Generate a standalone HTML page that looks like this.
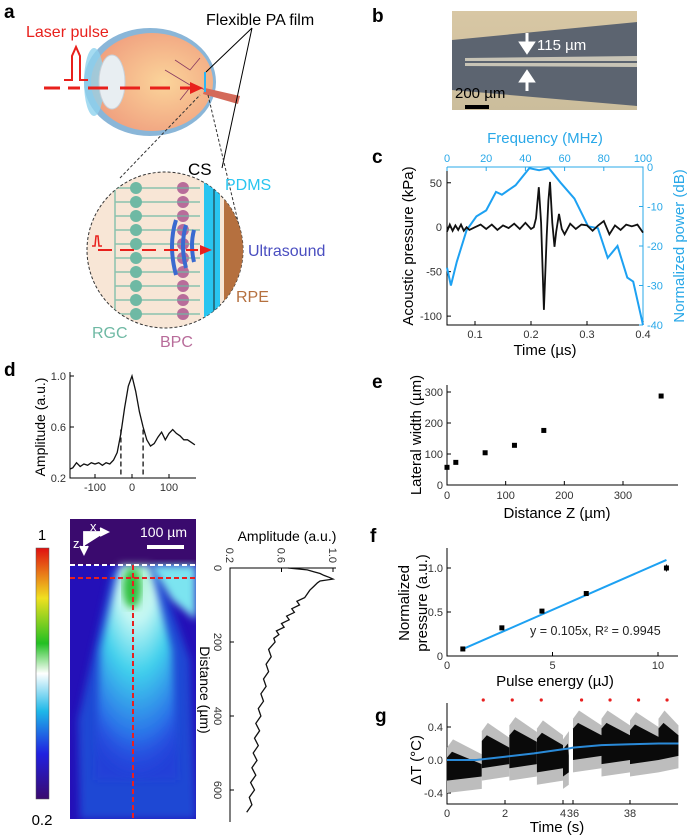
<!DOCTYPE html>
<html><head><meta charset="utf-8"><style>
body{margin:0;background:#fff}
svg{display:block;font-family:"Liberation Sans",sans-serif}
</style></head><body>
<svg id="fig" width="690" height="839" viewBox="0 0 690 839">
<defs>
<radialGradient id="eyeg" cx="0.6" cy="0.5" r="0.6"><stop offset="0" stop-color="#fbd49a"/><stop offset="1" stop-color="#f0a07f"/></radialGradient>
<linearGradient id="cbar" x1="0" y1="1" x2="0" y2="0"><stop offset="0" stop-color="#3a0a6e"/><stop offset="0.18" stop-color="#2020e0"/><stop offset="0.35" stop-color="#1fb8e8"/><stop offset="0.5" stop-color="#ffffff"/><stop offset="0.62" stop-color="#22c022"/><stop offset="0.8" stop-color="#f0e020"/><stop offset="1" stop-color="#e01010"/></linearGradient>
<radialGradient id="cone" cx="0.5" cy="0" r="1"><stop offset="0" stop-color="#a0f0c0"/><stop offset="0.25" stop-color="#c8f8f4"/><stop offset="0.5" stop-color="#40d0ec"/><stop offset="0.8" stop-color="#2a70e8"/><stop offset="1" stop-color="#2a30e0" stop-opacity="0.3"/></radialGradient>
<linearGradient id="photo" x1="0" y1="0" x2="0" y2="1"><stop offset="0" stop-color="#d8c7a4"/><stop offset="1" stop-color="#cbbd9c"/></linearGradient>
<filter id="blur"><feGaussianBlur stdDeviation="4"/></filter>
<clipPath id="hclip"><rect x="70" y="519" width="126" height="300"/></clipPath>
<clipPath id="zclip"><circle cx="165" cy="250" r="78"/></clipPath>
</defs>

<g font-weight="bold" font-size="19">
<text x="4" y="18">a</text><text x="372" y="22">b</text><text x="372" y="163">c</text>
<text x="4" y="376">d</text><text x="372" y="388">e</text><text x="370" y="542">f</text><text x="375" y="722">g</text>
</g>

<g>
<text x="26" y="37" fill="#e8201c" font-size="16">Laser pulse</text>
<text x="206" y="25" font-size="16">Flexible PA film</text>
<ellipse cx="150" cy="82" rx="66" ry="54" fill="#8ab6d8"/>
<ellipse cx="152" cy="82" rx="61" ry="49" fill="url(#eyeg)"/>
<ellipse cx="94" cy="82" rx="10" ry="34" fill="#8fd2ee" opacity="0.8"/>
<ellipse cx="112" cy="82" rx="13" ry="27" fill="#e8eef2" stroke="#c8d0d8"/>
<path d="M205 88 L240 96 L238 104 L203 94Z" fill="#d46a5a"/>
<path d="M175 60 l15 10 l10 -12 M180 100 l12 -15 l14 5 M165 70 l25 15" stroke="#8a3a60" fill="none" stroke-width="0.8"/>
<line x1="205" y1="72" x2="205" y2="92" stroke="#29b6f6" stroke-width="2"/>
<path d="M44 88 L60 88 M68 88 L80 88 M88 88 L108 88 M120 88 L140 88 M150 88 L170 88 M180 88 L192 88" stroke="#e8201c" stroke-width="3"/>
<polygon points="190,82 203,88 190,94" fill="#e8201c"/>
<path d="M64 80 L72 80 L72 56 L76 47 L80 56 L80 80 L88 80" stroke="#e8201c" stroke-width="2" fill="none"/>
<path d="M252 28 L206 72 M252 28 L222 168" stroke="#000" stroke-width="1"/>
<path d="M120 178 L200 95 M208 95 L240 230" stroke="#333" stroke-dasharray="3,2" fill="none"/>
<circle cx="165" cy="250" r="78" fill="#f8e6d6" stroke="#333" stroke-dasharray="3,2"/>
<g clip-path="url(#zclip)">
<g fill="#6fb9a4"><circle cx="136" cy="188" r="6"/><circle cx="136" cy="202" r="6"/><circle cx="136" cy="216" r="6"/><circle cx="136" cy="230" r="6"/><circle cx="136" cy="244" r="6"/><circle cx="136" cy="258" r="6"/><circle cx="136" cy="272" r="6"/><circle cx="136" cy="286" r="6"/><circle cx="136" cy="300" r="6"/><circle cx="136" cy="314" r="6"/></g>
<g fill="#b86c9a"><circle cx="183" cy="188" r="6"/><circle cx="183" cy="202" r="6"/><circle cx="183" cy="216" r="6"/><circle cx="183" cy="230" r="6"/><circle cx="183" cy="244" r="6"/><circle cx="183" cy="258" r="6"/><circle cx="183" cy="272" r="6"/><circle cx="183" cy="286" r="6"/><circle cx="183" cy="300" r="6"/><circle cx="183" cy="314" r="6"/></g>
<path d="M115 180 V320 M115 188 H200 M115 202 H200 M115 216 H200 M115 230 H200 M115 244 H200 M115 258 H200 M115 272 H200 M115 286 H200 M115 300 H200 M115 314 H200" stroke="#6fb9a4" stroke-width="1.5" fill="none" opacity="0.8"/>
<rect x="204" y="170" width="16" height="160" fill="#29c5f0"/>
<line x1="214" y1="170" x2="214" y2="330" stroke="#222"/>
<rect x="224" y="200" width="30" height="100" fill="#b5703f"/>
<path d="M176 220 Q168 245 176 275 M186 225 Q180 245 186 268 M194 230 Q190 245 194 262" stroke="#3a6ad0" stroke-width="4" fill="none"/>
</g>
<path d="M98 250 L112 250 M120 250 L134 250 M142 250 L156 250 M164 250 L178 250 M186 250 L198 250" stroke="#e8201c" stroke-width="2"/>
<polygon points="200,245 212,250 200,255" fill="#e8201c"/>
<path d="M92 246 L95 246 L96 236 L98 236 L99 246 L102 246" stroke="#e8201c" fill="none" stroke-width="1.5"/>
<text x="188" y="175" font-size="17">CS</text>
<text x="225" y="190" font-size="16" fill="#29c5f0">PDMS</text>
<text x="248" y="256" font-size="16" fill="#4a4ec0">Ultrasound</text>
<text x="236" y="302" font-size="16" fill="#b5703f">RPE</text>
<text x="92" y="338" font-size="16" fill="#6fb9a4">RGC</text>
<text x="160" y="347" font-size="16" fill="#b86c9a">BPC</text>
</g>

<g>
<rect x="452" y="11" width="185" height="99" fill="url(#photo)"/>
<polygon points="452,40 637,22 637,106 452,90" fill="#5c6470"/>
<polygon points="465,58 637,56 637,67 465,66" fill="#c8c4b6"/>
<rect x="465" y="61" width="172" height="2" fill="#5c6470"/>
<path d="M527 33 V48 M521 43 L527 52 L533 43Z" stroke="#fff" stroke-width="3" fill="#fff"/>
<path d="M527 91 V76 M521 81 L527 72 L533 81Z" stroke="#fff" stroke-width="3" fill="#fff"/>
<text x="537" y="50" font-size="15" fill="#fff">115 µm</text>
<text x="455" y="98" font-size="15" fill="#000">200 µm</text>
<rect x="465" y="105" width="24" height="4" fill="#000"/>
</g>

<g id="chartC"></g>
<g id="chartDtop"></g>
<g id="heat"></g>
<g id="chartDr"></g>
<g id="chartE"></g>
<g id="chartF"></g>
<g id="chartG"></g>
</svg>
<script>
const cTime=[0.05,0.055,0.06,0.065,0.07,0.075,0.08,0.085,0.09,0.1,0.11,0.12,0.13,0.14,0.15,0.16,0.17,0.18,0.19,0.2,0.205,0.209,0.214,0.218,0.223,0.228,0.231,0.234,0.238,0.242,0.245,0.25,0.255,0.26,0.27,0.28,0.29,0.3,0.31,0.32,0.33,0.34,0.35,0.36,0.37,0.38,0.39,0.4];
const cPressure=[-5,3,-4,2,-3,3,-4,0,-3,0,3,-2,3,-3,2,-1,4,-2,5,-2,0,10,45,5,-93,-10,30,51,5,-22,-5,15,-2,-8,4,-2,3,2,-4,2,7,-8,2,-3,3,1,3,-6];
const cFreq=[0,2,5,10,15,20,25,28,35,42,47,52,58,65,72,77,82,87,92,95,100];
const cPower=[-25.5,-30,-24,-16,-12.5,-11,-6.3,-7,-4.6,-0.3,-0.8,-0.3,-4,-8,-15,-15.5,-23,-20,-28,-29,-40];
const cYTicks=[-100,-50,0,50];
const cTTicks=[0.1,0.2,0.3,0.4];
const cFTicks=[0,20,40,60,80,100];
const cDbTicks=[0,-10,-20,-30,-40];

const dLatX=[-168,-160,-150,-140,-130,-120,-110,-100,-90,-80,-70,-60,-50,-40,-30,-20,-10,0,10,20,30,40,50,60,70,80,90,100,110,120,130,140,150,160,170];
const dLatY=[0.27,0.28,0.32,0.29,0.31,0.3,0.32,0.31,0.32,0.3,0.32,0.31,0.34,0.4,0.55,0.75,0.92,1.0,0.88,0.72,0.6,0.5,0.45,0.47,0.52,0.56,0.5,0.55,0.58,0.55,0.53,0.5,0.5,0.48,0.46];
const dLatTicks=[-100,0,100];
const dAmpTicks=[0.2,0.6,1.0];

const dAxZ=[0,5,10,15,20,25,30,35,40,50,60,70,80,90,100,110,120,130,140,150,160,170,180,190,200,220,240,260,280,300,320,340,360,380,400,420,440,460,480,500,520,540,560,580,600,620,640,660];
const dAxA=[0.65,0.8,0.85,0.9,0.93,0.97,1.0,0.9,0.88,0.85,0.82,0.8,0.78,0.72,0.74,0.68,0.7,0.64,0.66,0.6,0.62,0.56,0.58,0.54,0.55,0.5,0.52,0.48,0.5,0.46,0.48,0.44,0.46,0.42,0.44,0.4,0.43,0.39,0.42,0.38,0.41,0.37,0.4,0.36,0.39,0.35,0.37,0.33];
const dZTicks=[0,200,400,600];

const eZ=[0,15,65,115,165,365];
const eW=[57,73,104,128,176,287];
const eXTicks=[0,100,200,300];
const eYTicks=[0,100,200,300];

const fE=[0.75,2.6,4.5,6.6,10.4];
const fP=[0.08,0.32,0.51,0.71,1.0];
const fErr=[0.01,0.015,0.025,0.015,0.04];
const fSlope=0.105;
const fXTicks=[0,5,10];
const fYTicks=[0,0.5,1.0];

const gSegStart=[0,1.2,2.15,3.1,4.0,36.0,37.0,38.0,39.0];
const gSegEnd=[1.2,2.15,3.1,4.0,4.2,37.0,38.0,39.0,39.7];
const gHigh=[-0.05,0.15,0.22,0.18,0.05,0.3,0.3,0.28,0.3];
const gLow=[-0.15,0.0,0.0,-0.05,-0.1,0.1,0.05,0.05,0.1];
const gFitT=[0,1,2,3,4,4.2,36,37,38,39,39.7];
const gFitV=[0,0.0,0.04,0.08,0.13,0.14,0.15,0.18,0.19,0.2,0.2];
const gStim=[1.25,2.25,3.25,36.3,37.3,38.3,39.3];
const gXTicks=[0,2,4,36,38];
const gYTicks=[-0.4,0,0.4];

const NS="http://www.w3.org/2000/svg";
function mk(parent,tag,attrs,txt){const e=document.createElementNS(NS,tag);for(const k in attrs)e.setAttribute(k,attrs[k]);if(txt!==undefined)e.textContent=txt;parent.appendChild(e);return e;}
const lin=(d0,d1,r0,r1)=>v=>r0+(v-d0)*(r1-r0)/(d1-d0);
function pathOf(xs,ys,fx,fy){return xs.map((x,i)=>(i?'L':'M')+fx(x).toFixed(1)+' '+fy(ys[i]).toFixed(1)).join(' ');}

(function(){
const g=document.getElementById('chartC');
const x=lin(0.05,0.4,447,643), y=lin(-110,70,325,165), xf=lin(0,100,447,643), yd=lin(-40,0,325,167);
mk(g,'path',{d:'M447 167 V325 H643',stroke:'#000',fill:'none'});
mk(g,'path',{d:'M447 167 H643 V325',stroke:'#29a8e8',fill:'none'});
cYTicks.forEach(v=>{mk(g,'line',{x1:447,x2:451,y1:y(v),y2:y(v),stroke:'#000'});mk(g,'text',{x:442,y:y(v)+4,'font-size':11,'text-anchor':'end',fill:'#333'},v);});
cTTicks.forEach(v=>{mk(g,'line',{x1:x(v),x2:x(v),y1:325,y2:321,stroke:'#000'});mk(g,'text',{x:x(v),y:338,'font-size':11,'text-anchor':'middle',fill:'#333'},v.toFixed(1));});
cFTicks.forEach(v=>{mk(g,'line',{x1:xf(v),x2:xf(v),y1:167,y2:171,stroke:'#29a8e8'});mk(g,'text',{x:xf(v),y:162,'font-size':11,'text-anchor':'middle',fill:'#29a8e8'},v);});
cDbTicks.forEach(v=>{mk(g,'line',{x1:643,x2:639,y1:yd(v),y2:yd(v),stroke:'#29a8e8'});mk(g,'text',{x:647,y:yd(v)+4,'font-size':11,fill:'#29a8e8'},v);});
const sp=mk(g,'path',{d:pathOf(cFreq,cPower,xf,yd),stroke:'#1da1f2',fill:'none','stroke-width':2});


const pp=mk(g,'path',{d:pathOf(cTime,cPressure,x,y),stroke:'#111',fill:'none','stroke-width':1.8});


mk(g,'text',{x:545,y:355,'font-size':15,'text-anchor':'middle'},'Time (µs)');
mk(g,'text',{x:545,y:143,'font-size':15,'text-anchor':'middle',fill:'#29a8e8'},'Frequency (MHz)');
mk(g,'text',{transform:'translate(413,246) rotate(-90)','font-size':15,'text-anchor':'middle'},'Acoustic pressure (kPa)');
mk(g,'text',{transform:'translate(684,246) rotate(-90)','font-size':15,'text-anchor':'middle',fill:'#29a8e8'},'Normalized power (dB)');
})();

(function(){
const g=document.getElementById('chartDtop');
const x=lin(-100,100,95,169), y=lin(0.2,1.0,478,376);
mk(g,'path',{d:'M70 372 V478 H196',stroke:'#000',fill:'none'});
dLatTicks.forEach(v=>{mk(g,'line',{x1:x(v),x2:x(v),y1:478,y2:474,stroke:'#000'});mk(g,'text',{x:x(v),y:491,'font-size':11,'text-anchor':'middle',fill:'#333'},v);});
dAmpTicks.forEach(v=>{mk(g,'line',{x1:70,x2:74,y1:y(v),y2:y(v),stroke:'#000'});mk(g,'text',{x:66,y:y(v)+4,'font-size':11,'text-anchor':'end',fill:'#333'},v.toFixed(1));});
const p=mk(g,'path',{d:pathOf(dLatX,dLatY,x,y),stroke:'#111',fill:'none','stroke-width':1.3});


[-30,30].forEach(v=>mk(g,'line',{x1:x(v),x2:x(v),y1:y(0.58),y2:478,stroke:'#111','stroke-dasharray':'5,3','stroke-width':1.3}));
mk(g,'text',{transform:'translate(45,427) rotate(-90)','font-size':14,'text-anchor':'middle'},'Amplitude (a.u.)');
})();

(function(){
const g=document.getElementById('heat');
mk(g,'rect',{x:36,y:548,width:13,height:251,fill:'url(#cbar)',stroke:'#555','stroke-width':0.5});
mk(g,'text',{x:42,y:540,'font-size':15,'text-anchor':'middle'},'1');
mk(g,'text',{x:42,y:825,'font-size':15,'text-anchor':'middle'},'0.2');
const c=mk(g,'g',{'clip-path':'url(#hclip)'});
mk(c,'rect',{x:70,y:519,width:126,height:300,fill:'#2410b8'});
mk(c,'rect',{x:70,y:519,width:126,height:46,fill:'#3a0a6e'});
mk(c,'polygon',{points:'112,570 158,570 190,660 196,819 80,819 78,720',fill:'#1e60e0',filter:'url(#blur)',opacity:0.7});
mk(c,'polygon',{points:'120,565 150,565 172,650 178,780 95,780 100,650',fill:'url(#cone)',filter:'url(#blur)'});
mk(c,'polygon',{points:'150,565 196,565 196,620 172,600',fill:'#7be4f0',filter:'url(#blur)'});
mk(c,'ellipse',{cx:132,cy:588,rx:9,ry:20,fill:'#30c040',filter:'url(#blur)'});
mk(g,'line',{x1:70,x2:196,y1:565,y2:565,stroke:'#fff','stroke-dasharray':'5,3','stroke-width':2});
mk(g,'line',{x1:70,x2:196,y1:578,y2:578,stroke:'#e82020','stroke-dasharray':'5,3','stroke-width':2});
mk(g,'line',{x1:133,x2:133,y1:565,y2:819,stroke:'#e82020','stroke-dasharray':'5,3','stroke-width':2});
mk(g,'path',{d:'M84 546 V532 H106 M100 528 L108 532 L100 536 M80 546 L84 554 L88 546',stroke:'#fff','stroke-width':1.8,fill:'#fff'});
mk(g,'text',{x:90,y:531,'font-size':13,fill:'#fff'},'x');
mk(g,'text',{x:73,y:548,'font-size':13,fill:'#fff'},'z');
mk(g,'text',{x:140,y:537,'font-size':14,fill:'#fff'},'100 µm');
mk(g,'rect',{x:147,y:545,width:37,height:4,fill:'#fff'});
})();

(function(){
const g=document.getElementById('chartDr');
const xa=lin(0.2,1.0,230,333), yz=lin(0,600,568,790);
mk(g,'path',{d:'M336 568 H230 V822',stroke:'#000',fill:'none'});
dAmpTicks.forEach(v=>{mk(g,'line',{x1:xa(v),x2:xa(v),y1:568,y2:572,stroke:'#000'});mk(g,'text',{transform:`translate(${xa(v)-4},563) rotate(90)`,'font-size':11,'text-anchor':'end',fill:'#333'},v.toFixed(1));});
dZTicks.forEach(v=>{mk(g,'line',{x1:230,x2:234,y1:yz(v),y2:yz(v),stroke:'#000'});mk(g,'text',{transform:`translate(214,${yz(v)}) rotate(90)`,'font-size':11,'text-anchor':'middle',fill:'#333'},v);});
const d=dAxZ.map((z,i)=>(i?'L':'M')+xa(dAxA[i]).toFixed(1)+' '+yz(z).toFixed(1)).join(' ');
const pl=mk(g,'path',{d:d,stroke:'#111',fill:'none','stroke-width':1.3});


mk(g,'text',{x:287,y:541,'font-size':14,'text-anchor':'middle'},'Amplitude (a.u.)');
mk(g,'text',{transform:'translate(200,690) rotate(90)','font-size':14,'text-anchor':'middle'},'Distance (µm)');
})();

(function(){
const g=document.getElementById('chartE');
const x=lin(0,300,447,623), y=lin(0,300,485,392);
mk(g,'path',{d:'M447 385 V485 H678',stroke:'#000',fill:'none'});
eXTicks.forEach(v=>{mk(g,'line',{x1:x(v),x2:x(v),y1:485,y2:481,stroke:'#000'});mk(g,'text',{x:x(v),y:499,'font-size':11,'text-anchor':'middle',fill:'#333'},v);});
eYTicks.forEach(v=>{mk(g,'line',{x1:447,x2:451,y1:y(v),y2:y(v),stroke:'#000'});mk(g,'text',{x:443,y:y(v)+4,'font-size':11,'text-anchor':'end',fill:'#333'},v);});
eZ.forEach((z,i)=>{const r=mk(g,'rect',{x:x(z)-2.5,y:y(eW[i])-2.5,width:5,height:5,fill:'#000'});

});
mk(g,'text',{x:557,y:518,'font-size':15,'text-anchor':'middle'},'Distance Z (µm)');
mk(g,'text',{transform:'translate(421,435) rotate(-90)','font-size':15,'text-anchor':'middle'},'Lateral width (µm)');
})();

(function(){
const g=document.getElementById('chartF');
const x=lin(0,10,447,658), y=lin(0,1.0,656,568);
mk(g,'path',{d:'M447 548 V656 H678',stroke:'#000',fill:'none'});
fXTicks.forEach(v=>{mk(g,'line',{x1:x(v),x2:x(v),y1:656,y2:652,stroke:'#000'});mk(g,'text',{x:x(v),y:669,'font-size':11,'text-anchor':'middle',fill:'#333'},v);});
fYTicks.forEach(v=>{mk(g,'line',{x1:447,x2:451,y1:y(v),y2:y(v),stroke:'#000'});mk(g,'text',{x:443,y:y(v)+4,'font-size':11,'text-anchor':'end',fill:'#333'},v===0?'0':v.toFixed(1));});
const x0=fE[0],x1=fE[fE.length-1];
const fl=mk(g,'line',{x1:x(x0),y1:y(fSlope*x0),x2:x(x1),y2:y(fSlope*x1),stroke:'#1da1f2','stroke-width':2});


fE.forEach((e,i)=>{mk(g,'line',{x1:x(e),x2:x(e),y1:y(fP[i]+fErr[i]),y2:y(fP[i]-fErr[i]),stroke:'#000'});const r=mk(g,'rect',{x:x(e)-2.5,y:y(fP[i])-2.5,width:5,height:5,fill:'#000'});

});
mk(g,'text',{x:530,y:635,'font-size':12.5,fill:'#222'},'y = 0.105x, R² = 0.9945');
mk(g,'text',{x:555,y:686,'font-size':15,'text-anchor':'middle'},'Pulse energy (µJ)');
mk(g,'text',{transform:'translate(409,603) rotate(-90)','font-size':15,'text-anchor':'middle'},'Normalized');
mk(g,'text',{transform:'translate(427,603) rotate(-90)','font-size':15,'text-anchor':'middle'},'pressure (a.u.)');
})();

(function(){
const g=document.getElementById('chartG');
const y=lin(0,0.4,760,727);
const x=t=>t<20?447+t*29:573+(t-36)*28.5;
mk(g,'path',{d:'M447 703 V804 H678',stroke:'#000',fill:'none'});
gXTicks.forEach(v=>{mk(g,'line',{x1:x(v),x2:x(v),y1:804,y2:800,stroke:'#000'});mk(g,'text',{x:x(v),y:817,'font-size':11,'text-anchor':'middle',fill:'#333'},v);});
gYTicks.forEach(v=>{mk(g,'line',{x1:447,x2:451,y1:y(v),y2:y(v),stroke:'#000'});mk(g,'text',{x:443,y:y(v)+4,'font-size':11,'text-anchor':'end',fill:'#333'},v.toFixed(1));});
gSegStart.forEach((s,i)=>{
 const e=gSegEnd[i], hi=gHigh[i], lo=gLow[i];
 const gp=mk(g,'polygon',{points:`${x(s)},${y(hi+0.2)} ${x(s)+6},${y(hi+0.3)} ${x(e)},${y(hi+0.12)} ${x(e)},${y(lo-0.2)} ${x(s)},${y(lo-0.25)}`,fill:'#bdbdbd'});
 
 
 const bp=mk(g,'polygon',{points:`${x(s)},${y(hi+0.08)} ${x(s)+5},${y(hi+0.15)} ${x(e)},${y(hi)} ${x(e)},${y(lo-0.05)} ${x(s)},${y(lo-0.1)}`,fill:'#0a0a0a'});
 
 
});
const fit=gFitT.map((t,i)=>(i?'L':'M')+x(t).toFixed(1)+' '+y(gFitV[i]).toFixed(1)).join(' ');
const fp=mk(g,'path',{d:fit,stroke:'#2a8ad8',fill:'none','stroke-width':2});


gStim.forEach(t=>{const c=mk(g,'circle',{cx:x(t),cy:700,r:1.6,fill:'#e82020'});

});
mk(g,'text',{x:557,y:832,'font-size':15,'text-anchor':'middle'},'Time (s)');
mk(g,'text',{transform:'translate(421,760) rotate(-90)','font-size':15,'text-anchor':'middle'},'ΔT (°C)');
})();
</script>
</body></html>
